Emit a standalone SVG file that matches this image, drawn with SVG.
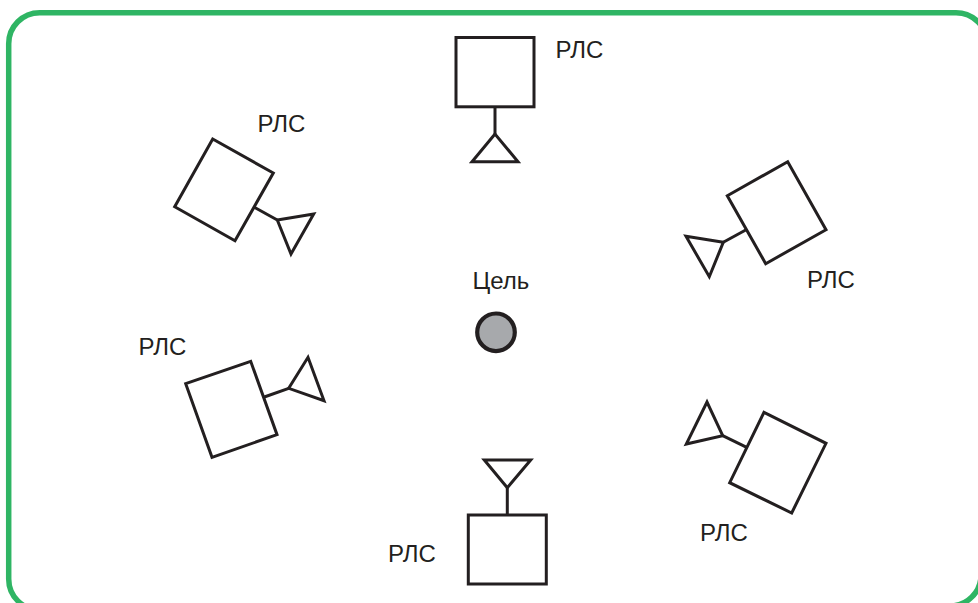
<svg xmlns="http://www.w3.org/2000/svg" width="978" height="603" viewBox="0 0 978 603">
<style>
.s{fill:#fff;stroke:#231f20;stroke-width:3;stroke-linejoin:miter}
.c{fill:none;stroke:#231f20;stroke-width:3}
.t{font-family:"Liberation Sans",Arial,sans-serif;font-size:24px;fill:#231f20}
</style>
<rect width="978" height="603" fill="#fff"/>
<path id="frame" d="M39.7,12.7 H956 A31,31 0 0 1 987,43.7 L981,575 A31,31 0 0 1 950,606 L39.7,610 A31,31 0 0 1 8.7,579 V43.7 A31,31 0 0 1 39.7,12.7 Z" fill="none" stroke="#2fb564" stroke-width="5.5"/>
<g id="connectors">
<line class="c" x1="495" y1="107" x2="495" y2="134"/>
<line class="c" x1="254.3" y1="207.3" x2="277.3" y2="220"/>
<line class="c" x1="745.7" y1="230" x2="723.3" y2="242.3"/>
<line class="c" x1="746.7" y1="447.3" x2="722.7" y2="435.7"/>
<line class="c" x1="264.3" y1="397" x2="288.7" y2="388.3"/>
<line class="c" x1="507.3" y1="515" x2="507.3" y2="487.7"/>
</g>
<g id="radar-top">
<rect class="s" x="456" y="37.5" width="78" height="69.3"/>
<polygon class="s" points="495,134 472,161.7 518,161.7"/>
<text class="t" x="555.5" y="58">РЛС</text>
</g>
<g id="radar-top-left">
<polygon class="s" points="212.7,139 273.3,173 235,240.7 174.7,206.7"/>
<polygon class="s" points="277.3,220 313.7,214 291,254"/>
<text class="t" x="257.5" y="131.5">РЛС</text>
</g>
<g id="radar-right">
<polygon class="s" points="727.3,195.7 787.7,161.7 826,229.7 765.7,263.7"/>
<polygon class="s" points="723.3,242.3 686,236.3 709.3,276.7"/>
<text class="t" x="807" y="288">РЛС</text>
</g>
<g id="radar-bottom-right">
<polygon class="s" points="764,412.3 826,443.3 791.7,513 729.7,482.7"/>
<polygon class="s" points="722.7,435.7 707,402 686.3,444"/>
<text class="t" x="700" y="541">РЛС</text>
</g>
<g id="radar-left">
<polygon class="s" points="185.7,383.7 250.7,361.3 277,434.7 212,457.3"/>
<polygon class="s" points="288.7,388.3 308,357.3 324,400.7"/>
<text class="t" x="138.5" y="354.5">РЛС</text>
</g>
<g id="radar-bottom">
<rect class="s" x="468.3" y="515" width="78" height="69"/>
<polygon class="s" points="507.3,487.7 484.3,460 530.7,460"/>
<text class="t" x="388" y="562">РЛС</text>
</g>
<g id="target">
<circle cx="496" cy="332.3" r="18.8" fill="#a7a9ac" stroke="#231f20" stroke-width="4.2"/>
<text class="t" x="472.5" y="289">Цель</text>
</g>
</svg>
